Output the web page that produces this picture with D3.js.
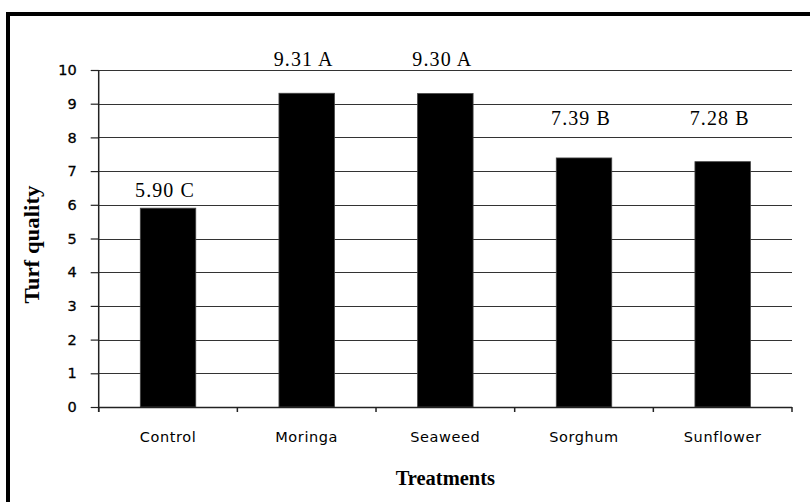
<!DOCTYPE html>
<html><head><meta charset="utf-8">
<script src="https://cdn.jsdelivr.net/npm/d3@7"></script>
<style>
html,body{margin:0;padding:0;background:#fff;}
svg{display:block;}
</style></head>
<body>
<svg id="chart" width="810" height="502"></svg>
<script>
const categories = ["Control", "Moringa", "Seaweed", "Sorghum", "Sunflower"];
const values = [5.90, 9.31, 9.30, 7.39, 7.28];
const letters = ["C", "A", "A", "B", "B"];
const labelAt = [6.23, 10.12, 10.12, 8.37, 8.37];
const yTicks = [0, 1, 2, 3, 4, 5, 6, 7, 8, 9, 10];
const yTitle = "Turf quality";
const xTitle = "Treatments";

const svg = d3.select("#chart");
const m = {left: 98.7, right: 792, top: 70, bottom: 407};

// frame (top and left edges)
svg.append("rect").attr("x", 6).attr("y", 12).attr("width", 804).attr("height", 4).attr("fill", "#000");
svg.append("rect").attr("x", 6).attr("y", 12).attr("width", 4).attr("height", 490).attr("fill", "#000");

const x = d3.scaleBand().domain(categories).range([m.left, m.right]).paddingInner(0.6).paddingOuter(0.3);
const xb = d3.scaleBand().domain(categories).range([m.left, m.right]);
const y = d3.scaleLinear().domain([0, 10]).range([m.bottom, m.top]);

// gridlines
svg.append("g").selectAll("line").data(yTicks.filter(d => d > 0)).join("line")
  .attr("x1", m.left).attr("x2", m.right)
  .attr("y1", d => Math.round(y(d)) + 0.5).attr("y2", d => Math.round(y(d)) + 0.5)
  .attr("stroke", "#333").attr("stroke-width", 1.2);

// bars
svg.append("g").selectAll("rect").data(values).join("rect")
  .attr("x", (d, i) => x(categories[i]))
  .attr("width", x.bandwidth())
  .attr("y", d => y(d))
  .attr("height", d => y(0) - y(d))
  .attr("fill", "#000").attr("stroke", "#444").attr("stroke-width", 0.8);

// y axis
const yAxis = d3.axisLeft(y).tickValues(yTicks).tickSize(8).tickPadding(14).tickFormat(d3.format("d"));
const gy = svg.append("g").attr("transform", `translate(${m.left},0)`).call(yAxis);
gy.select(".domain").remove();
gy.selectAll(".tick line").attr("stroke", "#222").attr("stroke-width", 1.2);
gy.selectAll(".tick text").attr("font-family", "DejaVu Sans, Verdana, sans-serif").attr("font-size", 14.5)
  .attr("fill", "#000").attr("stroke", "#000").attr("stroke-width", 0.3);
svg.append("line").attr("x1", m.left).attr("x2", m.left).attr("y1", m.top).attr("y2", m.bottom + 5)
  .attr("stroke", "#222").attr("stroke-width", 1.5);

// x axis
svg.append("line").attr("x1", m.left).attr("x2", m.right).attr("y1", m.bottom + 0.5).attr("y2", m.bottom + 0.5)
  .attr("stroke", "#222").attr("stroke-width", 1.5);
const bounds = categories.map(c => xb(c)).concat([m.right]);
svg.append("g").selectAll("line").data(bounds).join("line")
  .attr("x1", d => d).attr("x2", d => d).attr("y1", m.bottom).attr("y2", m.bottom + 5)
  .attr("stroke", "#222").attr("stroke-width", 1.5);
svg.append("g").selectAll("text").data(categories).join("text")
  .attr("x", d => xb(d) + xb.bandwidth() / 2)
  .attr("y", 442)
  .attr("text-anchor", "middle")
  .attr("font-family", "DejaVu Sans, Verdana, sans-serif")
  .attr("font-size", 14.5).attr("letter-spacing", 0.6)
  .attr("fill", "#000")
  .text(d => d);

// value labels
svg.append("g").selectAll("text").data(values).join("text")
  .attr("x", (d, i) => xb(categories[i]) + xb.bandwidth() / 2 - 3)
  .attr("y", (d, i) => y(labelAt[i]))
  .attr("text-anchor", "middle")
  .attr("font-family", "Liberation Serif, Times New Roman, serif")
  .attr("font-size", 20)
  .attr("letter-spacing", 1.1)
  .attr("fill", "#000")
  .text((d, i) => d.toFixed(2) + " " + letters[i]);

// titles
svg.append("text").attr("x", (m.left + m.right) / 2).attr("y", 485)
  .attr("text-anchor", "middle")
  .attr("font-family", "Liberation Serif, Times New Roman, serif")
  .attr("font-weight", "bold").attr("font-size", 20.5)
  .attr("fill", "#000").text(xTitle);
svg.append("text").attr("transform", `translate(39,${(m.top + m.bottom) / 2 + 6}) rotate(-90)`)
  .attr("text-anchor", "middle")
  .attr("font-family", "Liberation Serif, Times New Roman, serif")
  .attr("font-weight", "bold").attr("font-size", 21)
  .attr("textLength", 118).attr("lengthAdjust", "spacingAndGlyphs")
  .attr("fill", "#000").text(yTitle);
</script>
</body></html>
